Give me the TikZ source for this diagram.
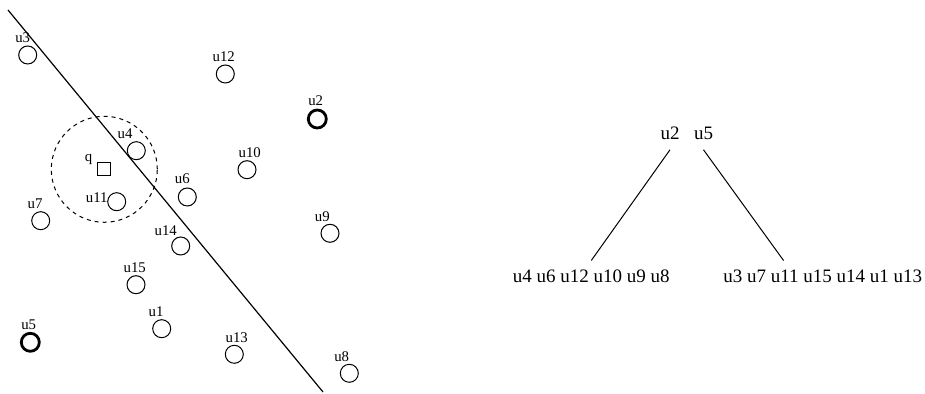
\documentclass[tikz,border=0pt]{standalone}
\usepackage{fontspec}
\setmainfont{Liberation Serif}
\usetikzlibrary{calc}

\begin{document}
\begin{tikzpicture}[x=0.5pt,y=-0.5pt,semithick]
  \tikzstyle{point}=[circle,draw,line width=0.5pt,inner sep=0pt,minimum size=9pt]
  \tikzstyle{heavy point}=[point,line width=1.4pt]
  \tikzstyle{tag}=[inner sep=0pt,font=\fontsize{7.4}{8}\selectfont]
  \tikzstyle{set}=[inner sep=4.5pt,anchor=base,font=\fontsize{9.5}{11}\selectfont]

  \useasboundingbox (0,0) rectangle (925,394);

  % query point and its range
  \node[draw,line width=0.5pt,inner sep=0pt,minimum size=6.5pt] (q) at (104.3,169.3) {};
  \node[tag] (tq) at (88.5,160) {q};
  \node[circle,draw,line width=0.5pt,dash pattern=on 2pt off 2pt,minimum size=53pt] (range) at (q) {};

  % data points
  \node[point] (u3) at (27.7,55) {};        \node[tag] (t3) at (22.7,37.3) {u3};
  \node[point] (u12) at (225.3,74) {};      \node[tag] (t12) at (223.7,56.7) {u12};
  \node[heavy point] (u2) at (317.3,119) {}; \node[tag] (t2) at (315.7,101) {u2};
  \node[point] (u4) at (136.3,150.7) {};    \node[tag] (t4) at (125,133.3) {u4};
  \node[point] (u10) at (247,169.7) {};     \node[tag] (t10) at (249.7,152.3) {u10};
  \node[point] (u6) at (187.3,197) {};      \node[tag] (t6) at (182.3,179) {u6};
  \node[point] (u11) at (116.7,201.7) {};   \node[tag] (t11) at (96.7,197.3) {u11};
  \node[point] (u7) at (40.7,220.7) {};     \node[tag] (t7) at (35,203.3) {u7};
  \node[point] (u9) at (330,233.3) {};      \node[tag] (t9) at (322.3,216.7) {u9};
  \node[point] (u14) at (180.7,246) {};     \node[tag] (t14) at (165.7,230.7) {u14};
  \node[point] (u15) at (136,284.7) {};     \node[tag] (t15) at (134.7,267.7) {u15};
  \node[point] (u1) at (161.7,328.7) {};    \node[tag] (t1) at (156,311.7) {u1};
  \node[heavy point] (u5) at (30.3,342.3) {}; \node[tag] (t5) at (28.7,325) {u5};
  \node[point] (u13) at (234.3,354.3) {};   \node[tag] (t13) at (236.7,337.7) {u13};
  \node[point] (u8) at (349.3,373.3) {};    \node[tag] (t8) at (341.7,356.7) {u8};

  % splitting line
  \coordinate (top) at (8,10);
  \coordinate (bottom) at (323,392);
  \draw[line width=0.6pt] (top) -- (bottom);

  % the split as a tree
  \node[set] (r2) at (670,140) {u2};
  \node[set] (r5) at (703.5,140) {u5};
  \node[set] (left) at (591.3,282.7) {u4 u6 u12 u10 u9 u8};
  \node[set] (right) at (822.8,282.7) {u3 u7 u11 u15 u14 u1 u13};

  \draw[line width=0.5pt] (r2.south) -- (left.north);
  \draw[line width=0.5pt] (r5.south) -- ($(right.north west)!0.32!(right.north east)$);
\end{tikzpicture}
\end{document}
